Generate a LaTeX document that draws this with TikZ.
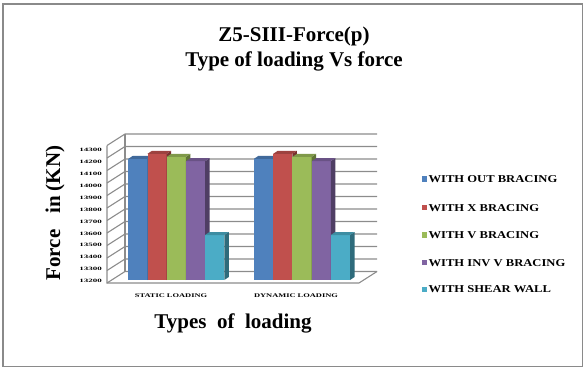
\documentclass[tikz,border=0pt]{standalone}
\usepackage{fontspec}
\setmainfont{Liberation Serif}
\definecolor{sBlue}{HTML}{4F81BD}
\definecolor{sRed}{HTML}{C0504D}
\definecolor{sGreen}{HTML}{9BBB59}
\definecolor{sPurple}{HTML}{8064A2}
\definecolor{sCyan}{HTML}{4BACC6}
\definecolor{gridgray}{HTML}{8C8C8C}
\definecolor{framegray}{HTML}{8A8A8A}
% one 3-D column: left x, top y, colour (front face ends on the floor at y=280)
\newcommand\drawbarbox[3]{%
  \fill[#3] (#1,#2) rectangle (#1+19.2,280);
  \fill[#3!62!black] (#1+19.2,#2) -- (#1+23.7,#2-3) -- (#1+23.7,277) -- (#1+19.2,280) -- cycle;
  \fill[#3!82!black] (#1,#2) -- (#1+4.5,#2-3) -- (#1+23.7,#2-3) -- (#1+19.2,#2) -- cycle;
}
\begin{document}
\begin{tikzpicture}[x=1pt,y=-1pt,
  grid/.style={draw=gridgray,line width=1.1pt},
  ticklab/.style={font=\bfseries\fontsize{5}{5}\selectfont,inner sep=0pt,anchor=east},
  catlab/.style={font=\bfseries\fontsize{5.6}{5.6}\selectfont,inner sep=0pt},
  axtitle/.style={font=\bfseries\fontsize{21}{21}\selectfont,inner sep=0pt},
  legtext/.style={font=\bfseries\fontsize{10.5}{10.5}\selectfont,inner sep=0pt,anchor=west}]
\useasboundingbox (0,0) rectangle (584,369);
% frame
\draw[framegray,line width=1.6pt] (2.8,3.8) rectangle (582.4,366.6);

% title
\node[axtitle,anchor=base] (t1) at (294,41.5) {Z5-SIII-Force(p)};
\node[axtitle,anchor=base] (t2) at (294,66.5) {Type of loading Vs force};

% walls and floor
\foreach \k in {0,...,11}{
  \pgfmathsetmacro\yb{271.5-12.5*\k}
  \draw[grid] (107,\yb+11.5) -- (125,\yb) -- (377,\yb);
}
\draw[grid] (125,134) -- (125,271.5);
\draw[grid] (107,145.5) -- (107,283) -- (359,283) -- (377,271.5);

% value axis labels
\foreach \k in {0,...,11}{
  \pgfmathtruncatemacro\v{13200+100*\k}
  \node[ticklab] (tick\k) at (102,281-11.9*\k) {\scalebox{1.8}[1]{\v}};
}

% columns: static loading
\drawbarbox{128.3}{158.8}{sBlue}
\drawbarbox{147.5}{153.8}{sRed}
\drawbarbox{166.7}{156.9}{sGreen}
\drawbarbox{185.9}{161.2}{sPurple}
\drawbarbox{205.1}{235}{sCyan}
% columns: dynamic loading
\drawbarbox{254.0}{158.8}{sBlue}
\drawbarbox{273.2}{153.8}{sRed}
\drawbarbox{292.4}{156.9}{sGreen}
\drawbarbox{311.6}{161.2}{sPurple}
\drawbarbox{330.8}{235}{sCyan}

% category labels
\node[catlab] (cat1) at (171,296) {\scalebox{1.5}[1]{STATIC LOADING}};
\node[catlab] (cat2) at (296,296) {\scalebox{1.5}[1]{DYNAMIC LOADING}};

% axis titles
\node[axtitle,anchor=base] (xt) at (233,328) {Types\ \ of\ \ loading};
\node[axtitle,rotate=90] (yt) at (55,213) {Force\ \ \ in\ (KN)};

% legend
\foreach \lab/\col/\yy [count=\i] in {WITH OUT BRACING/sBlue/179,
    WITH X BRACING/sRed/207.7,
    WITH V BRACING/sGreen/235,
    WITH INV V BRACING/sPurple/262.7,
    WITH SHEAR WALL/sCyan/289.3}{
  \fill[\col] (421.8,\yy-2.6) rectangle (427,\yy+2.6);
  \node[legtext] (leg\i) at (428.3,\yy) {\scalebox{1.2}[1]{\lab}};
}
\end{tikzpicture}
\end{document}
